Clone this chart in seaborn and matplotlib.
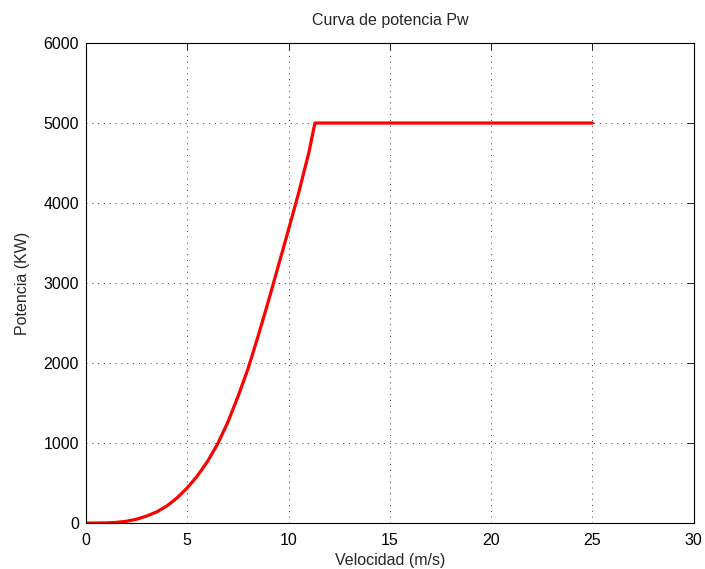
import pandas as pd
import numpy as np
import matplotlib
matplotlib.use('Agg')
import matplotlib.pyplot as plt
import seaborn as sns

# values
velocidad = [0, 0.5, 1, 1.5, 2, 2.5, 3, 3.5, 4, 4.5, 5, 5.5, 6, 6.5, 7, 7.5, 8,
             8.5, 9, 9.5, 10, 10.5, 11, 11.3, 25]
potencia = [0, 0, 2, 8, 22, 48, 88, 140, 215, 315, 440, 590, 770, 990, 1260, 1580, 1930,
            2340, 2770, 3220, 3670, 4130, 4630, 5000, 5000]

x_ticks = [0, 5, 10, 15, 20, 25, 30]
y_ticks = [0, 1000, 2000, 3000, 4000, 5000, 6000]

df = pd.DataFrame({'Velocidad': velocidad, 'Potencia': potencia})

sns.set_style('white')
plt.rcParams['font.family'] = ['Liberation Sans', 'DejaVu Sans']

fig = plt.figure(figsize=(7.05, 5.69), dpi=100)
ax = fig.add_axes([0.122, 0.0808, 0.862, 0.8436])

sns.lineplot(data=df, x='Velocidad', y='Potencia', color='red', linewidth=2.3, ax=ax, sort=False)

ax.set_xlim(0, 30)
ax.set_ylim(0, 6000)
ax.set_xticks(x_ticks)
ax.set_yticks(y_ticks)
ax.tick_params(direction='in', top=True, right=True, length=5, width=0.6,
               labelsize=11.5, colors='black')
ax.tick_params(axis='x', pad=7)
ax.tick_params(axis='y', pad=5)
ax.grid(True, linestyle=(0, (1, 5)), color='#404040', linewidth=0.7)
for s in ax.spines.values():
    s.set_color('black')
    s.set_linewidth(0.8)

ax.set_title('Curva de potencia Pw', fontsize=11.5, pad=13)
ax.set_xlabel('Velocidad (m/s)', fontsize=11.5, labelpad=4)
ax.set_ylabel('Potencia (KW)', fontsize=11.5, labelpad=10)

fig.savefig('out.png', dpi=100)
